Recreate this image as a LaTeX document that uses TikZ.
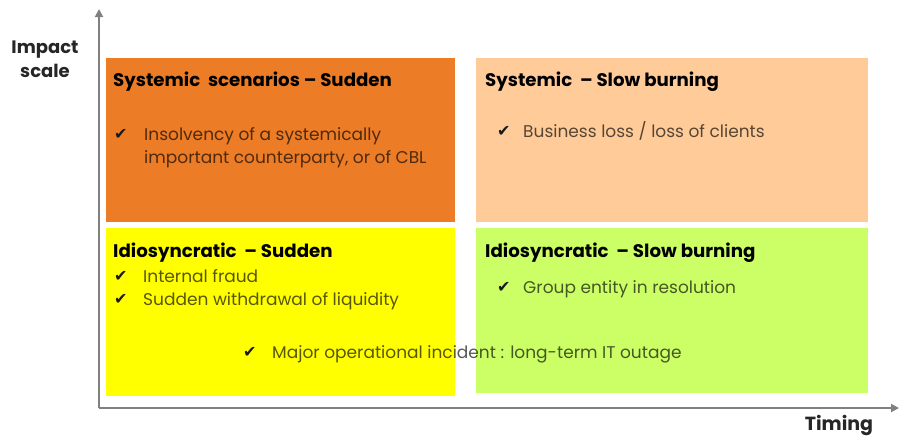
\documentclass[tikz,border=0pt]{standalone}
\usepackage{fontspec}
\setmainfont{Poppins}
\newfontfamily\symfont{DejaVu Sans}
\usetikzlibrary{arrows.meta}
\definecolor{cOrange}{HTML}{EC7C26}
\definecolor{cPeach}{HTML}{FFCC99}
\definecolor{cYellow}{HTML}{FFFF00}
\definecolor{cLime}{HTML}{CCFF66}
\definecolor{cAxis}{HTML}{808080}
\tikzset{
  x=1pt, y=-1pt,
  ttl/.style={anchor=base west, inner sep=0pt, font=\fontsize{18.2}{20}\selectfont\bfseries, text=black},
  body/.style={anchor=base west, inner sep=0pt, font=\fontsize{17}{20}\selectfont, text=black, text opacity=0.66},
  chk/.style={anchor=base west, inner sep=0pt, font=\fontsize{16}{18}\symfont, text=black!90},
  axl/.style={inner sep=0pt, font=\fontsize{18}{24}\selectfont\bfseries, text=black!85},
  axis/.style={draw=cAxis, line width=1.8pt, -{Triangle[length=8pt,width=8pt]}}
}
\begin{document}
\begin{tikzpicture}
\useasboundingbox (0,0) rectangle (901,440);
\fill[white] (0,0) rectangle (901,440);
% quadrants
\fill[cOrange] (106,58) rectangle (455,222);
\fill[cPeach] (476,58) rectangle (868,222);
\fill[cYellow] (106,228) rectangle (455,396);
\fill[cLime] (476,228) rectangle (868,393);
% axes
\coordinate (o) at (99,408);
\coordinate (ytip) at (99,9);
\coordinate (xtip) at (899,408);
\draw[axis] (o) -- (ytip);
\draw[axis] (o) -- (xtip);
\node[axl, anchor=base] (ylab) at (45,53) {Impact};
\node[axl, anchor=base] (ylab2) at (45,77) {scale};
\node[axl, anchor=base, font=\fontsize{19}{24}\selectfont\bfseries] (xlab) at (839,430) {Timing};
% top-left
\node[ttl] (t1) at (113,86) {Systemic\ \ scenarios – Sudden};
\node[chk] (c1) at (114,139) {✔};
\node[body] (b1) at (144,140) {Insolvency of a systemically};
\node[body] (b1b) at (144,163) {important counterparty, or of CBL};
% top-right
\node[ttl] (t2) at (485,86) {Systemic\ \ – Slow burning};
\node[chk] (c2) at (497,136) {✔};
\node[body] (b2) at (523,137) {Business loss / loss of clients};
% bottom-left
\node[ttl] (t3) at (113,257) {Idiosyncratic\ \ – Sudden};
\node[chk] (c3) at (114,281) {✔};
\node[body] (b3) at (143,282) {Internal fraud};
\node[chk] (c4) at (114,304) {✔};
\node[body] (b4) at (143,305) {Sudden withdrawal of liquidity};
% bottom-right
\node[ttl] (t4) at (485,257) {Idiosyncratic\ \ – Slow burning};
\node[chk] (c5) at (497,292) {✔};
\node[body] (b5) at (523,293) {Group entity in resolution};
% spanning item
\node[chk] (c6) at (243,357) {✔};
\node[body] (b6) at (272,358) {Major operational incident : long-term IT outage};
\end{tikzpicture}
\end{document}
